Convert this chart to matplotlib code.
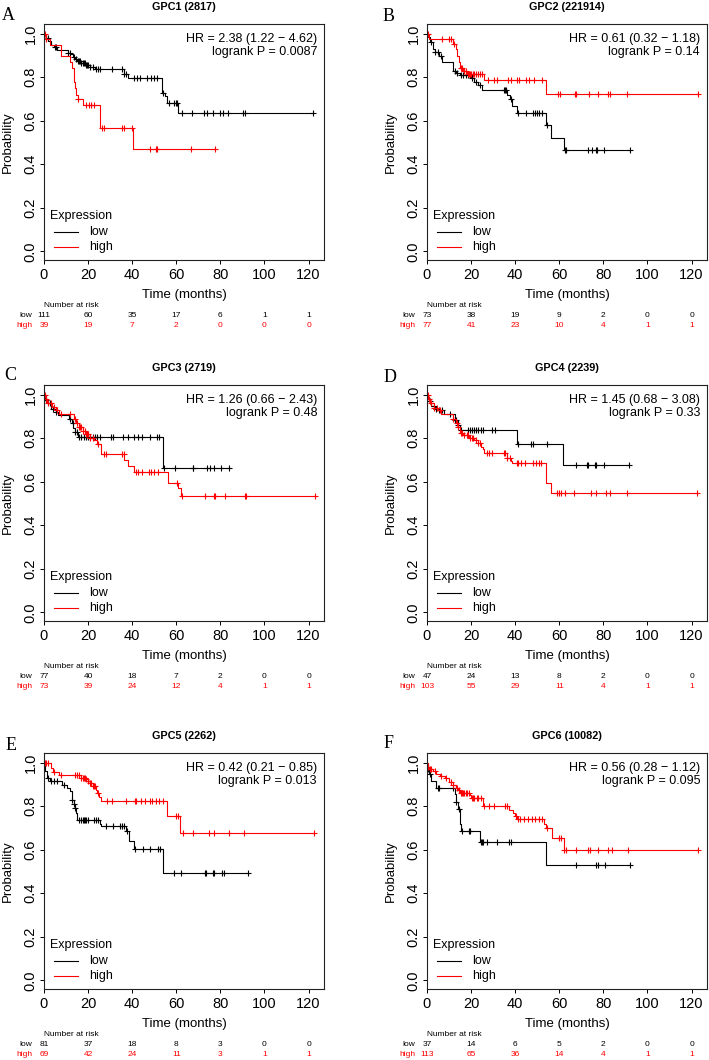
import numpy as np
import matplotlib
matplotlib.use("Agg")
import matplotlib.pyplot as plt
from matplotlib.transforms import blended_transform_factory

plt.rcParams["font.family"] = ["Liberation Sans", "DejaVu Sans"]

# ---- data: KM steps (time, survival), censor times, risk table ----
risk_times = [0, 20, 40, 60, 80, 100, 120]

A_title, A_hr, A_p = "GPC1 (2817)", "HR = 2.38 (1.22 \u2212 4.62)", "logrank P = 0.0087"
A_low_t = [0.5, 1, 2, 3, 4.5, 6, 10.8, 12, 13, 14, 15, 17, 19, 21, 23, 36.3, 38.1, 53.5, 54.7, 55.9, 61]
A_low_s = [0.99, 0.98, 0.965, 0.95, 0.94, 0.925, 0.912, 0.905, 0.895, 0.885, 0.875, 0.865, 0.858, 0.848,
           0.838, 0.816, 0.797, 0.729, 0.713, 0.683, 0.637]
A_low_c = [1.8, 4.8, 5.6, 10.8, 11.6, 13.5, 14.5, 15.5, 16, 16.5, 17, 17.5, 18, 18.5, 19, 19.5, 20, 21, 22,
           23.5, 24.5, 25.5, 31, 35.6, 36.4, 37.1, 40.9, 42.4, 43.6, 46.9, 48.4, 49.9, 51.4, 54.2, 56.5, 58.9,
           59.7, 60.5, 62.7, 67.2, 72.4, 73.9, 76.7, 80, 81.2, 83.3, 90.2, 91.1, 122]
A_high_t = [0.8, 2.5, 7.8, 12, 12.8, 13.4, 13.8, 14.2, 14.6, 15.2, 17.5, 25.3, 40.3]
A_high_s = [0.974, 0.948, 0.896, 0.871, 0.845, 0.81, 0.78, 0.75, 0.72, 0.70, 0.672, 0.567, 0.472]
A_high_c = [0.3, 1.0, 15.3, 19.1, 20.5, 21.5, 22.8, 26.3, 27.4, 35.2, 36.4, 40.0, 48, 50.7, 51.4, 66.8, 77.4]
A_risk_low = [111, 60, 35, 17, 6, 1, 1]
A_risk_high = [39, 19, 7, 2, 0, 0, 0]

B_title, B_hr, B_p = "GPC2 (221914)", "HR = 0.61 (0.32 \u2212 1.18)", "logrank P = 0.14"
B_low_t = [0.5, 1.5, 2.5, 3.5, 5.5, 7, 12, 13, 15, 20, 21.5, 23, 25, 36.5, 37.5, 38.5, 41, 54, 56.3, 62]
B_low_s = [0.986, 0.96, 0.93, 0.915, 0.90, 0.87, 0.83, 0.82, 0.81, 0.795, 0.78, 0.765, 0.74, 0.72, 0.70,
           0.668, 0.635, 0.58, 0.523, 0.466]
B_low_c = [2, 3.5, 5, 6.5, 12.5, 13.5, 15.5, 16.5, 17.5, 18.5, 19.5, 20.5, 22, 24, 35, 35.5, 36, 38, 41.5,
           45, 48, 49, 50, 51, 52, 54.5, 62.5, 63, 73, 75, 76.8, 77.2, 80.5, 92]
B_high_t = [1, 12, 13, 13.8, 14.5, 15, 16.5, 18, 26, 54]
B_high_s = [0.974, 0.951, 0.93, 0.90, 0.87, 0.845, 0.83, 0.813, 0.786, 0.722]
B_high_c = [0.5, 6.6, 10.1, 10.9, 12.1, 15.5, 16, 17, 17.5, 18.5, 19, 19.5, 20, 21, 21.5, 22, 23, 24, 25,
            27.5, 30.2, 31.7, 36.6, 38, 41, 41.9, 44.9, 46.4, 48.7, 52.1, 59.5, 60.4, 67, 67.5, 73.3, 77.4,
            81.9, 83.1, 90.7, 122.7]
B_risk_low = [73, 38, 19, 9, 2, 0, 0]
B_risk_high = [77, 41, 23, 10, 4, 1, 1]

C_title, C_hr, C_p = "GPC3 (2719)", "HR = 1.26 (0.66 \u2212 2.43)", "logrank P = 0.48"
C_low_t = [0.5, 1.5, 3, 5.5, 6.5, 11.5, 12.5, 13.2, 14, 15.5, 53.9]
C_low_s = [0.975, 0.96, 0.936, 0.92, 0.908, 0.89, 0.87, 0.849, 0.83, 0.808, 0.662]
C_low_c = [1, 2.5, 4, 5.5, 12, 13, 14, 15, 16, 17, 18, 19, 20, 21, 22, 23, 24.2, 25.4, 30.3, 31.2, 36,
           38.3, 40.6, 42.5, 44.6, 48.1, 51.2, 52, 54.5, 59.5, 67.5, 67.8, 73.8, 75.1, 77.3, 80.4, 84.1]
C_high_t = [0.8, 1.5, 3.5, 5.5, 7, 13.5, 14.5, 16, 17.5, 19, 21, 22.5, 24, 25.8, 36.5, 38.3, 40.7, 56.2,
            61, 62]
C_high_s = [0.98, 0.96, 0.945, 0.93, 0.912, 0.89, 0.87, 0.85, 0.835, 0.82, 0.80, 0.79, 0.776, 0.73, 0.702,
            0.672, 0.644, 0.596, 0.57, 0.535]
C_high_c = [0.5, 1, 2, 3, 4.5, 6, 7.5, 12, 14, 15, 16, 16.5, 17, 17.5, 18.5, 19, 19.5, 20, 21, 22, 24.5,
            27.4, 28, 35.3, 36.3, 41.6, 42.8, 44.3, 47.4, 48.6, 50.1, 51.9, 60.5, 62.8, 72.8, 76.9, 77.6,
            81.9, 91, 91.6, 123]
C_risk_low = [77, 40, 18, 7, 2, 0, 0]
C_risk_high = [73, 39, 24, 12, 4, 1, 1]

D_title, D_hr, D_p = "GPC4 (2239)", "HR = 1.45 (0.68 \u2212 3.08)", "logrank P = 0.33"
D_low_t = [0.5, 1, 2, 3.5, 5, 7.5, 12.5, 14, 15, 41, 61.8]
D_low_s = [0.985, 0.97, 0.95, 0.935, 0.928, 0.911, 0.885, 0.863, 0.838, 0.774, 0.678]
D_low_c = [1.5, 3, 4, 5.5, 7, 10.5, 12.5, 13, 14, 15.4, 18.7, 19.4, 20.2, 21.3, 22.2, 23.2, 24.4, 25.5,
           29.5, 30.8, 41.3, 47.3, 48.1, 54.6, 67.4, 72.7, 73, 76, 76.7, 80.2, 91.4]
D_high_t = [0.5, 1.5, 3, 5, 6.5, 12, 13, 14, 15, 16.5, 19, 21.5, 23, 24.5, 25.5, 26, 36.5, 38, 38.5, 54,
            56.3]
D_high_s = [0.98, 0.96, 0.94, 0.93, 0.91, 0.89, 0.87, 0.85, 0.825, 0.814, 0.80, 0.79, 0.78, 0.76, 0.75,
            0.732, 0.71, 0.695, 0.685, 0.595, 0.548]
D_high_c = [0.3, 1, 2, 3, 4.5, 6, 12, 13.5, 14.2, 15.5, 16, 17, 18, 18.5, 19.5, 20.5, 21, 22, 23, 24, 27,
            28, 29.5, 35, 35.5, 36.5, 37.5, 40.6, 41.3, 42.8, 44.6, 48.1, 49.3, 50.7, 51.6, 59.1, 59.7, 60.9,
            62.4, 66.9, 74.5, 76.8, 81.3, 82.8, 90.6, 122.4]
D_risk_low = [47, 24, 13, 8, 2, 0, 0]
D_risk_high = [103, 55, 29, 11, 4, 1, 1]

E_title, E_hr, E_p = "GPC5 (2262)", "HR = 0.42 (0.21 \u2212 0.85)", "logrank P = 0.013"
E_low_t = [0.5, 1.5, 2.5, 8, 10.5, 12, 12.5, 13.5, 14, 14.5, 15, 25.5, 26, 37, 38.5, 41, 54]
E_low_s = [0.96, 0.93, 0.915, 0.90, 0.885, 0.87, 0.83, 0.81, 0.79, 0.77, 0.737, 0.72, 0.711, 0.685, 0.64,
           0.605, 0.495]
E_low_c = [2, 3, 4.5, 6, 9, 12.5, 13.5, 14, 16, 17, 17.5, 18, 18.5, 19, 20, 22.5, 23.5, 24.5, 28, 31.2,
           34.6, 35.4, 36.2, 37.5, 41.1, 44.8, 48.3, 51.6, 52.4, 58.9, 62.3, 72.8, 73.5, 76.7, 77.3, 80.9,
           81.8, 92.4]
E_high_t = [3.3, 4, 7, 17, 19, 20, 21, 22, 23.5, 24, 25, 26, 56, 61.8]
E_high_s = [0.977, 0.957, 0.942, 0.931, 0.925, 0.915, 0.905, 0.892, 0.875, 0.862, 0.845, 0.826, 0.757,
            0.675]
E_high_c = [0.5, 1, 2, 4.5, 7.5, 14, 15, 16, 17, 17.5, 18, 18.5, 19, 20, 21, 21.5, 22, 22.5, 23, 24.5,
            28.7, 30.9, 37, 41.1, 41.7, 43.8, 46, 48, 49.1, 50.6, 52.1, 53.9, 59.9, 60.7, 63.1, 67.5, 74.7,
            77.3, 83.8, 90.9, 122.6]
E_risk_low = [81, 37, 18, 8, 3, 0, 0]
E_risk_high = [69, 42, 24, 11, 3, 1, 1]

F_title, F_hr, F_p = "GPC6 (10082)", "HR = 0.56 (0.28 \u2212 1.12)", "logrank P = 0.095"
F_low_t = [0.5, 1, 2, 3.9, 12.5, 13, 14, 14.8, 15.5, 24, 54]
F_low_s = [0.97, 0.95, 0.915, 0.885, 0.855, 0.82, 0.789, 0.72, 0.687, 0.638, 0.53]
F_low_c = [0.5, 1.5, 4.8, 5.6, 12, 13, 14.5, 15.8, 19.2, 19.7, 24.4, 25, 25.6, 27.1, 31.7, 37, 38, 67.7,
           76.8, 77.4, 80.9, 92]
F_high_t = [0.5, 1, 2.5, 4, 6, 8, 10, 12, 13, 14, 15, 19.5, 20, 25.5, 37, 39, 40, 41, 53, 54, 56.5, 62]
F_high_s = [0.98, 0.973, 0.96, 0.947, 0.94, 0.93, 0.913, 0.90, 0.885, 0.873, 0.863, 0.85, 0.84, 0.802,
            0.785, 0.77, 0.755, 0.74, 0.72, 0.698, 0.652, 0.60]
F_high_c = [0.5, 1.5, 2, 3.5, 6.5, 8.5, 11, 12, 13.5, 14.5, 15.5, 16, 16.5, 17, 17.5, 18, 19, 20.5, 21,
            21.5, 22.5, 23, 24.5, 25.9, 27.9, 30.2, 35.2, 36.2, 40.5, 41.1, 42, 43.8, 45.6, 47.6, 49.1, 50.6,
            52.1, 54.5, 59.7, 60.8, 62.3, 63.2, 67.7, 73, 74.1, 77.4, 82.1, 83.9, 91.1, 122.9]
F_risk_low = [37, 14, 6, 5, 2, 0, 0]
F_risk_high = [113, 65, 36, 14, 4, 1, 1]

# ---- layout (pixels of a 709x1060 canvas) ----
W, H = 709, 1060
AX_W, AX_H = 280, 236
col_left = [44, 427]
row_top = [24, 385, 753]
letter_pos = [(8.5, 16), (389, 16.5), (10, 375), (390, 377.5), (11.5, 746), (389, 744)]

panels = [
    ("A", A_title, A_hr, A_p, A_low_t, A_low_s, A_low_c, A_high_t, A_high_s, A_high_c, A_risk_low, A_risk_high),
    ("B", B_title, B_hr, B_p, B_low_t, B_low_s, B_low_c, B_high_t, B_high_s, B_high_c, B_risk_low, B_risk_high),
    ("C", C_title, C_hr, C_p, C_low_t, C_low_s, C_low_c, C_high_t, C_high_s, C_high_c, C_risk_low, C_risk_high),
    ("D", D_title, D_hr, D_p, D_low_t, D_low_s, D_low_c, D_high_t, D_high_s, D_high_c, D_risk_low, D_risk_high),
    ("E", E_title, E_hr, E_p, E_low_t, E_low_s, E_low_c, E_high_t, E_high_s, E_high_c, E_risk_low, E_risk_high),
    ("F", F_title, F_hr, F_p, F_low_t, F_low_s, F_low_c, F_high_t, F_high_s, F_high_c, F_risk_low, F_risk_high),
]


def km_curve(ax, t, s, c, color):
    t = np.asarray(t); s = np.asarray(s); c = np.asarray(c)
    x = np.r_[0, t, c.max()]
    y = np.r_[1.0, s, s[-1]]
    ax.step(x, y, where="post", color=color, lw=0.8)
    levels = np.r_[1.0, s][np.searchsorted(t, c, side="right")]
    ax.plot(c, levels, ls="none", marker="+", ms=4.5, mew=0.8, color=color)


fig = plt.figure(figsize=(W / 100, H / 100), dpi=100)

for i, (letter, title, hr, pval, lt, ls_, lc, ht, hs, hc, rlow, rhigh) in enumerate(panels):
    r, cidx = divmod(i, 2)
    left, top = col_left[cidx], row_top[r]
    ax = fig.add_axes([left / W, 1 - (top + AX_H) / H, AX_W / W, AX_H / H])

    km_curve(ax, lt, ls_, lc, "black")
    km_curve(ax, ht, hs, hc, "red")

    ax.set_xlim(0, 127)
    ax.set_ylim(-0.04, 1.045)
    ax.set_xticks(risk_times)
    ax.set_yticks(np.arange(0, 1.01, 0.2))
    ax.set_yticklabels([f"{v:.1f}" for v in np.arange(0, 1.01, 0.2)])
    ax.tick_params(axis="both", labelsize=10.5, length=3, width=0.7, color="black")
    ax.tick_params(axis="x", pad=3)
    ax.tick_params(axis="y", pad=1.5)
    for lab in ax.get_yticklabels():
        lab.set_rotation(90)
        lab.set_va("center")
    for sp in ax.spines.values():
        sp.set_linewidth(0.8)
        sp.set_color("#222222")

    ax.set_xlabel("Time (months)", fontsize=9.5)
    ax.xaxis.set_label_coords(0.5, -35 / AX_H)
    ax.xaxis.label.set_va("center")
    ax.set_ylabel("Probability", fontsize=9.5)
    ax.yaxis.set_label_coords(-36 / AX_W, 0.5)
    ax.yaxis.label.set_va("center")

    ax.set_title(title, fontsize=7.8, fontweight="bold", pad=10)

    ax.text(1 - 7 / AX_W, 1 - 15 / AX_H, hr, transform=ax.transAxes, ha="right", va="center", fontsize=9)
    ax.text(1 - 7 / AX_W, 1 - 28 / AX_H, pval, transform=ax.transAxes, ha="right", va="center", fontsize=9)

    # legend, R style
    ax.text(6 / AX_W, 44 / AX_H, "Expression", transform=ax.transAxes, ha="left", va="center", fontsize=9)
    for yy, name, col in [(28, "low", "black"), (13, "high", "red")]:
        ax.plot([10 / AX_W, 34 / AX_W], [yy / AX_H, yy / AX_H], transform=ax.transAxes, color=col, lw=0.8)
        ax.text(45 / AX_W, yy / AX_H, name, transform=ax.transAxes, ha="left", va="center", fontsize=9)

    # number at risk table
    tr = blended_transform_factory(ax.transData, ax.transAxes)
    ax.text(0, -46 / AX_H, "Number at risk", transform=tr, ha="left", va="center", fontsize=6, clip_on=False)
    ax.text(-11.5 / AX_W, -56 / AX_H, "low", transform=ax.transAxes, ha="right", va="center", fontsize=6)
    ax.text(-11.5 / AX_W, -66 / AX_H, "high", transform=ax.transAxes, ha="right", va="center", fontsize=6,
            color="red")
    for tx, nl, nh in zip(risk_times, rlow, rhigh):
        ax.text(tx, -56 / AX_H, str(nl), transform=tr, ha="center", va="center", fontsize=6, clip_on=False)
        ax.text(tx, -66 / AX_H, str(nh), transform=tr, ha="center", va="center", fontsize=6, color="red",
                clip_on=False)

    lx, ly = letter_pos[i]
    fig.text(lx / W, 1 - ly / H, letter, ha="center", va="center", fontsize=13,
             family=["Liberation Serif", "DejaVu Serif"])

fig.savefig("out.png", dpi=100)
